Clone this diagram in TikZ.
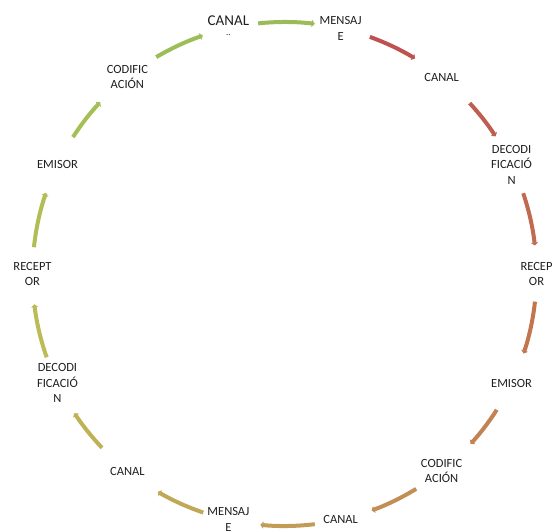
\documentclass[tikz,border=0pt]{standalone}
\usepackage{fontspec}
\setmainfont{Carlito}
\usetikzlibrary{arrows.meta}
\definecolor{c1}{RGB}{155,187,89}
\definecolor{c2}{RGB}{191,82,80}
\definecolor{c3}{RGB}{191,94,80}
\definecolor{c4}{RGB}{192,106,80}
\definecolor{c5}{RGB}{193,118,80}
\definecolor{c6}{RGB}{194,130,82}
\definecolor{c7}{RGB}{194,142,84}
\definecolor{c8}{RGB}{194,156,86}
\definecolor{c9}{RGB}{193,168,86}
\definecolor{c10}{RGB}{191,178,86}
\definecolor{c11}{RGB}{188,187,86}
\definecolor{c12}{RGB}{178,189,86}
\definecolor{c13}{RGB}{166,190,86}
\definecolor{c14}{RGB}{156,189,88}
\begin{document}
\begin{tikzpicture}[x=1pt,y=1pt,
  lbl/.style={align=center, font=\fontsize{12.5}{15.5}\selectfont, inner sep=0pt, text=black!88},
  seg/.style={line width=4pt, -{Triangle[length=3pt,width=7pt]}}]
\useasboundingbox (0,0) rectangle (556,-531);
\clip (0,0) rectangle (556,-531);
\begin{scope}[shift={(284.5,-274)}]
% labels
\node[lbl, font=\fontsize{15}{10}\selectfont, yshift=3pt] (n0) at (102.86:252) {CANAL\\{\fontsize{9}{9}\selectfont ..}};
\node[lbl] (n1) at (77.14:252) {MENSAJ\\E};
\node[lbl] (n2) at (51.43:252) {CANAL};
\node[lbl] (n3) at (25.71:252) {DECODI\\FICACIÓ\\N};
\node[lbl] (n4) at (0:252) {RECEP\\OR};
\node[lbl] (n5) at (-25.71:252) {EMISOR};
\node[lbl] (n6) at (-51.43:252) {CODIFIC\\ACIÓN};
\node[lbl] (n7) at (-77.14:252) {CANAL};
\node[lbl] (n8) at (-102.86:252) {MENSAJ\\E};
\node[lbl] (n9) at (-128.57:252) {CANAL};
\node[lbl] (n10) at (-154.29:252) {DECODI\\FICACIÓ\\N};
\node[lbl] (n11) at (180:252) {RECEPT\\OR};
\node[lbl] (n12) at (154.29:252) {EMISOR};
\node[lbl] (n13) at (128.57:252) {CODIFIC\\ACIÓN};
% arc start points
\coordinate (a1) at (96:252);
\coordinate (a2) at (70.2:252);
\coordinate (a3) at (42.7:252);
\coordinate (a4) at (18.7:252);
\coordinate (a5) at (-6.3:252);
\coordinate (a6) at (-32.6:252);
\coordinate (a7) at (-58.5:252);
\coordinate (a8) at (-83.1:252);
\coordinate (a9) at (-108.8:252);
\coordinate (a10) at (-136.4:252);
\coordinate (a11) at (-160.7:252);
\coordinate (a12) at (173.9:252);
\coordinate (a13) at (147.1:252);
\coordinate (a14) at (120.6:252);
% arcs
\draw[seg, c1] (a1) arc[start angle=96, end angle=83.1, radius=252];
\draw[seg, c2] (a2) arc[start angle=70.2, end angle=58.8, radius=252];
\draw[seg, c3] (a3) arc[start angle=42.7, end angle=33.1, radius=252];
\draw[seg, c4] (a4) arc[start angle=18.7, end angle=6.5, radius=252];
\draw[seg, c5] (a5) arc[start angle=-6.3, end angle=-18.4, radius=252];
\draw[seg, c6] (a6) arc[start angle=-32.6, end angle=-42.4, radius=252];
\draw[seg, c7] (a7) arc[start angle=-58.5, end angle=-69.8, radius=252];
\draw[seg, c8] (a8) arc[start angle=-83.1, end angle=-95.5, radius=252];
\draw[seg, c9] (a9) arc[start angle=-108.8, end angle=-120.2, radius=252];
\draw[seg, c10] (a10) arc[start angle=-136.4, end angle=-146.5, radius=252];
\draw[seg, c11] (a11) arc[start angle=-160.7, end angle=-173.1, radius=252];
\draw[seg, c12] (a12) arc[start angle=173.9, end angle=161.2, radius=252];
\draw[seg, c13] (a13) arc[start angle=147.1, end angle=137.0, radius=252];
\draw[seg, c14] (a14) arc[start angle=120.6, end angle=108.9, radius=252];
\end{scope}
\end{tikzpicture}
\end{document}
